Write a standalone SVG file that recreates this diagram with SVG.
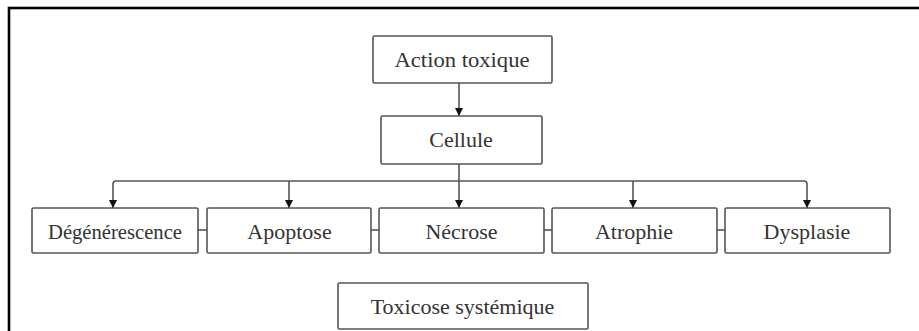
<svg xmlns="http://www.w3.org/2000/svg" width="919" height="331" viewBox="0 0 919 331">
<defs>
<style>
.box{fill:#fff;stroke:#555;stroke-width:1.6}
.lbl{font-family:"Liberation Serif","Times New Roman",serif;font-size:22px;fill:#333;text-anchor:middle}
.con{fill:none;stroke:#555;stroke-width:1.6}
</style>
<marker id="ah" viewBox="0 0 10 10" refX="10" refY="5" markerWidth="8" markerHeight="8" markerUnits="userSpaceOnUse" orient="auto">
<path d="M0,0 L10,5 L0,10 Z" fill="#111"/>
</marker>
</defs>
<rect width="919" height="331" fill="#fff"/>
<rect x="9" y="8" width="940" height="360" fill="none" stroke="#000" stroke-width="2.6"/>
<g id="connectors">
<line class="con" x1="459" y1="83" x2="459" y2="116" marker-end="url(#ah)"/>
<line class="con" x1="459" y1="164" x2="459" y2="208" marker-end="url(#ah)"/>
<path class="con" d="M113,208 V184 Q113,181 116,181 H804 Q807,181 807,184 V208" marker-end="url(#ah)"/>
<line class="con" x1="113" y1="200" x2="113" y2="208" marker-end="url(#ah)"/>
<line class="con" x1="289" y1="181" x2="289" y2="208" marker-end="url(#ah)"/>
<line class="con" x1="633" y1="181" x2="633" y2="208" marker-end="url(#ah)"/>
<line class="con" x1="198" y1="230" x2="207" y2="230"/>
<line class="con" x1="371" y1="230" x2="379" y2="230"/>
<line class="con" x1="544" y1="230" x2="552" y2="230"/>
<line class="con" x1="717" y1="230" x2="725" y2="230"/>
</g>
<g id="action">
<rect class="box" x="373" y="36" width="179" height="47" rx="1.5"/>
<text class="lbl" x="462" y="67" textLength="135" lengthAdjust="spacingAndGlyphs">Action toxique</text>
</g>
<g id="cellule">
<rect class="box" x="381" y="116" width="161" height="48" rx="1.5"/>
<text class="lbl" x="461" y="147">Cellule</text>
</g>
<g id="degenerescence">
<rect class="box" x="32" y="208" width="166" height="45" rx="1.5"/>
<text class="lbl" x="115" y="238.5" textLength="134" lengthAdjust="spacingAndGlyphs">Dégénérescence</text>
</g>
<g id="apoptose">
<rect class="box" x="207" y="208" width="164" height="45" rx="1.5"/>
<text class="lbl" x="289.5" y="238.5">Apoptose</text>
</g>
<g id="necrose">
<rect class="box" x="379" y="208" width="165" height="45" rx="1.5"/>
<text class="lbl" x="461.5" y="238.5">Nécrose</text>
</g>
<g id="atrophie">
<rect class="box" x="552" y="208" width="165" height="45" rx="1.5"/>
<text class="lbl" x="634" y="238.5">Atrophie</text>
</g>
<g id="dysplasie">
<rect class="box" x="725" y="208" width="165" height="45" rx="1.5"/>
<text class="lbl" x="807" y="238.5">Dysplasie</text>
</g>
<g id="toxicose">
<rect class="box" x="338" y="283" width="250" height="46" rx="1.5"/>
<text class="lbl" x="462.5" y="314">Toxicose systémique</text>
</g>
</svg>
